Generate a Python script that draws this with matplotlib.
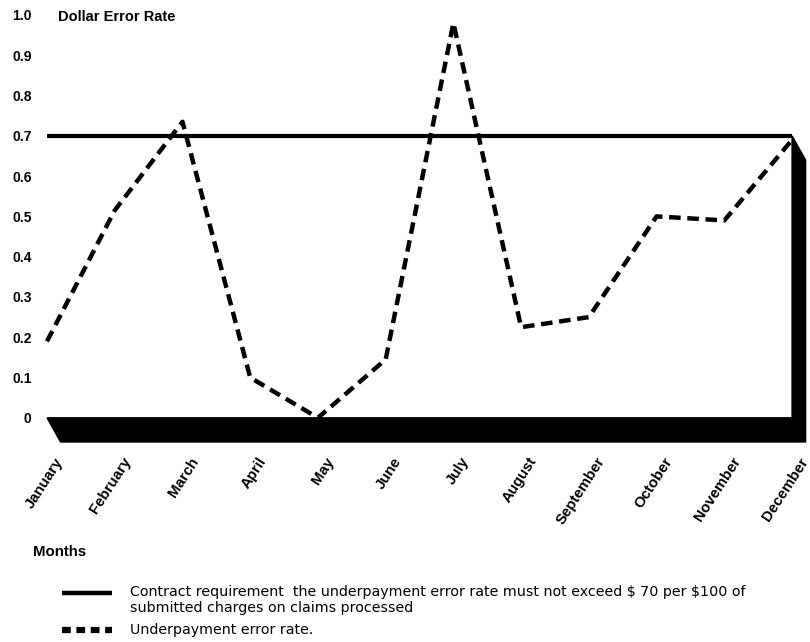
import matplotlib.pyplot as plt
import matplotlib.transforms as mtransforms
from matplotlib.lines import Line2D
from matplotlib.patches import Polygon

months = ['January', 'February', 'March', 'April', 'May', 'June', 'July',
          'August', 'September', 'October', 'November', 'December']
error_rate = [0.19, 0.515, 0.735, 0.10, 0.0, 0.145, 0.98, 0.225, 0.25, 0.50, 0.49, 0.69]
requirement = 0.70
y_ticks = [0, 0.1, 0.2, 0.3, 0.4, 0.5, 0.6, 0.7, 0.8, 0.9, 1.0]
y_tick_labels = ['0', '0.1', '0.2', '0.3', '0.4', '0.5', '0.6', '0.7', '0.8', '0.9', '1.0']

plt.rcParams['font.family'] = ['Liberation Sans', 'DejaVu Sans']

fig = plt.figure(figsize=(8.1, 6.42), dpi=100)
ax = fig.add_axes([47 / 810, 200 / 642, 762 / 810, 427 / 642])

x = list(range(len(months)))
last = x[-1]
dx, dy = 0.2, -0.06  # depth of the black 3-D frame

ax.set_xlim(0, last + 0.25)
ax.set_ylim(dy, 1.0)

# *** 3-D frame: bottom band + right wall, extruded from the axis corner ***
frame = Polygon([(0, 0), (last, 0), (last, requirement),
                 (last + dx, requirement + dy), (last + dx, dy), (dx, dy)],
                closed=True, facecolor='black', edgecolor='black',
                clip_on=False, zorder=2)
ax.add_patch(frame)

# contract requirement line
ax.plot([0, last], [requirement, requirement], color='black', lw=3,
        solid_capstyle='butt', clip_on=False, zorder=3)

# underpayment error rate
ax.plot(x, error_rate, color='black', lw=3.2, dashes=(2.6, 1.5),
        dash_capstyle='butt', clip_on=False, zorder=4)

# ** AXIS AND TICKS **
for side in ['left', 'right', 'top', 'bottom']:
    ax.spines[side].set_visible(False)

ax.set_yticks(y_ticks)
ax.set_yticklabels(y_tick_labels, fontsize=10, fontweight='bold')
ax.tick_params(axis='y', length=0, pad=11)

ax.set_xticks(x)
ax.set_xticklabels(months, fontsize=10.8, fontweight='bold', rotation=57,
                   ha='right', va='center', rotation_mode='anchor')
ax.tick_params(axis='x', length=0, pad=12)
shift = mtransforms.ScaledTranslation(13 / 100, 0, fig.dpi_scale_trans)
for label in ax.get_xticklabels():
    label.set_transform(label.get_transform() + shift)

fig.text(58 / 810, 1 - 17 / 642, 'Dollar Error Rate', fontsize=10.5,
         fontweight='bold', va='center', ha='left')
fig.text(33 / 810, 1 - 552 / 642, 'Months', fontsize=10.8,
         fontweight='bold', va='center', ha='left')

# * Legend (drawn by hand) *
fig.add_artist(Line2D([62 / 810, 112 / 810], [1 - 593 / 642] * 2,
                      transform=fig.transFigure, color='black', lw=3.2,
                      solid_capstyle='butt'))
fig.add_artist(Line2D([62 / 810, 112 / 810], [1 - 630 / 642] * 2,
                      transform=fig.transFigure, color='black', lw=4.5,
                      dashes=(1.4, 0.9), dash_capstyle='butt'))
legend_font = dict(fontsize=10.3, family=['DejaVu Sans'], va='center', ha='left')
fig.text(130 / 810, 1 - 592 / 642,
         r'Contract requirement  the underpayment error rate must not exceed \$ 70 per \$100 of',
         **legend_font)
fig.text(130 / 810, 1 - 608 / 642,
         'submitted charges on claims processed', **legend_font)
fig.text(130 / 810, 1 - 630 / 642, 'Underpayment error rate.', **legend_font)

fig.savefig('out.png', dpi=100)
